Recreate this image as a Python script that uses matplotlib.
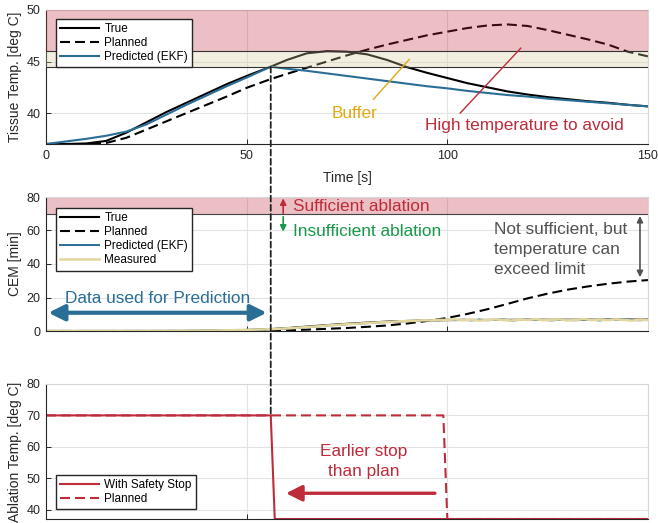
import matplotlib
matplotlib.use("Agg")
import matplotlib.pyplot as plt
from matplotlib.patches import ConnectionPatch

plt.rcParams['font.family'] = ['Liberation Sans', 'DejaVu Sans']

# ---------------- data ----------------
time_temp = [0, 5, 10, 15, 20, 25, 30, 35, 40, 45, 50, 56, 60, 65, 70, 75, 80, 85,
             90, 95, 100, 105, 110, 115, 120, 125, 130, 135, 140, 145, 150]
true_temp = [37.0, 37.0, 37.05, 37.3, 38.1, 39.1, 40.1, 41.0, 41.9, 42.8, 43.6, 44.5,
             45.15, 45.8, 46.0, 45.95, 45.7, 45.15, 44.45, 43.9, 43.4, 42.9, 42.5,
             42.1, 41.8, 41.55, 41.35, 41.15, 41.0, 40.8, 40.65]
planned_temp = [37.0, 37.0, 37.0, 37.1, 37.6, 38.4, 39.2, 40.0, 40.8, 41.6, 42.45, 43.3,
                43.8, 44.4, 45.0, 45.6, 46.15, 46.65, 47.1, 47.55, 47.9, 48.25, 48.5,
                48.6, 48.45, 48.05, 47.6, 47.15, 46.65, 45.95, 45.5]
ekf_temp = [37.0, 37.25, 37.5, 37.8, 38.2, 38.9, 39.85, 40.8, 41.7, 42.6, 43.45, 44.5,
            44.3, 44.1, 43.85, 43.6, 43.35, 43.1, 42.85, 42.6, 42.4, 42.15, 41.95,
            41.75, 41.6, 41.4, 41.25, 41.1, 40.95, 40.8, 40.65]

time_cem = [0, 5, 10, 15, 20, 25, 30, 35, 40, 45, 50, 55, 60, 65, 70, 75, 80, 85,
            90, 95, 100, 105, 110, 115, 120, 125, 130, 135, 140, 145, 150]
true_cem = [0, 0, 0, 0, 0, 0, 0, 0, 0.1, 0.3, 0.6, 1.0, 1.7, 2.6, 3.5, 4.3, 5.0, 5.6,
            6.0, 6.3, 6.5, 6.6, 6.6, 6.65, 6.7, 6.7, 6.7, 6.75, 6.75, 6.8, 6.8]
planned_cem = [0, 0, 0, 0, 0, 0, 0, 0, 0, 0, 0, 0, 0.4, 0.8, 1.3, 1.8, 2.5, 3.3,
               4.5, 6.0, 7.8, 10.2, 13.0, 16.2, 19.5, 22.3, 24.7, 26.6, 28.2, 29.5, 30.4]

time_meas = list(range(0, 151, 2))
measured_cem = [0, 0, 0, 0.05, 0, 0, 0.05, 0, 0, 0.05, 0, 0.05, 0, 0.1, 0.05, 0.1,
                0.05, 0.15, 0.1, 0.2, 0.25, 0.3, 0.4, 0.45, 0.6, 0.65, 0.8, 0.9,
                1.1, 1.3, 1.6, 1.8, 2.2, 2.5, 2.8, 3.3, 3.5, 3.9, 4.2, 4.4, 4.8, 5.0,
                5.3, 5.4, 5.8, 5.9, 6.1, 6.4, 6.3, 6.7, 6.6,
                6.9, 6.4, 6.7, 6.2, 6.6, 6.9, 6.5, 6.3, 6.8, 6.6, 7.0, 6.4, 6.7, 6.9,
                6.3, 6.6, 7.1, 6.5, 6.8, 6.4, 6.9, 6.6, 6.2, 6.8, 6.5]
ekf_cem = [0, 0, 0.05, 0, 0, 0.05, 0, 0.05, 0.05, 0, 0.05, 0.1, 0.05, 0.05, 0.1, 0.1,
           0.15, 0.1, 0.2, 0.2, 0.3, 0.35, 0.4, 0.5, 0.55, 0.7, 0.75, 0.9,
           1.0, 1.4, 1.5, 1.9, 2.1, 2.6, 2.7, 3.2, 3.6, 3.8, 4.3, 4.3, 4.7, 5.1,
           5.2, 5.5, 5.7, 6.0, 6.0, 6.3, 6.5, 6.5, 6.8,
           6.5, 6.8, 6.3, 6.8, 6.4, 6.7, 6.9, 6.2, 6.6, 6.9, 6.5, 6.7, 6.3, 6.8,
           6.6, 6.4, 6.9, 6.7, 6.3, 6.9, 6.5, 6.8, 6.6, 6.4, 6.7]

time_stop = [0, 56, 57, 150]
ablation_stop = [70, 70, 37, 37]
time_plan = [0, 99, 100, 150]
ablation_plan = [70, 70, 37, 37]

stop_time = 56
temp_limit = 46
temp_buffer = 44.5
cem_target = 70

# ---------------- styling ----------------
RED = '#BE2B3B'
BLUE = '#2A6E96'
GOLD = '#E2A812'
GREEN = '#16994A'
GREY = '#525252'
KHAKI = '#E4D79E'
AXC = '#262626'
GRIDC = '#E3E3E3'
DASH = (0, (4.8, 2.4))

W, H = 658, 523
fig = plt.figure(figsize=(W / 100, H / 100), dpi=100)
ax1 = fig.add_axes([46 / W, 1 - 144 / H, 602 / W, 134 / H])
ax2 = fig.add_axes([46 / W, 1 - 331 / H, 602 / W, 134 / H])
ax3 = fig.add_axes([46 / W, 1 - 519 / H, 602 / W, 135 / H])

for ax in (ax1, ax2, ax3):
    ax.set_xlim(0, 150)
    ax.set_xticks([0, 50, 100, 150])
    ax.grid(True, color=GRIDC, lw=0.8, zorder=0)
    ax.set_axisbelow(True)
    ax.tick_params(direction='in', length=3.5, width=0.7, colors=AXC, labelsize=9, pad=4)
    for s in ('left', 'bottom'):
        ax.spines[s].set_color(AXC)
        ax.spines[s].set_linewidth(0.8)
    for s in ('top', 'right'):
        ax.spines[s].set_color('#D6D6D6')
        ax.spines[s].set_linewidth(0.8)

leg_kw = dict(fontsize=8.5, frameon=True, fancybox=False, framealpha=1,
              edgecolor=AXC, handlelength=3.3, handletextpad=0.45,
              labelspacing=0.18, borderpad=0.35, borderaxespad=0)

# ---------------- tissue temperature ----------------
ax1.set_ylim(37, 50)
ax1.set_yticks([40, 45, 50])
l_true, = ax1.plot(time_temp, true_temp, color='black', lw=1.5, zorder=2)
l_plan, = ax1.plot(time_temp, planned_temp, color='black', lw=1.5, ls=DASH, zorder=2)
l_ekf, = ax1.plot(time_temp, ekf_temp, color=BLUE, lw=1.5, zorder=2)
ax1.axhspan(temp_limit, 50, facecolor=RED, alpha=0.3, lw=0, zorder=3)
ax1.axhspan(temp_buffer, temp_limit, facecolor='#D6CC9A', alpha=0.3, lw=0, zorder=3)
ax1.axhline(temp_limit, color='#333333', lw=0.8, zorder=3)
ax1.axhline(temp_buffer, color='#333333', lw=0.8, zorder=3)
ax1.set_ylabel('Tissue Temp. [deg C]', fontsize=10, color=AXC, labelpad=3)
ax1.set_xlabel('Time [s]', fontsize=10, color=AXC, labelpad=7)
ax1.legend([l_true, l_plan, l_ekf], ['True', 'Planned', 'Predicted (EKF)'],
           loc='upper left', bbox_to_anchor=(0.0166, 0.933), **leg_kw).set_zorder(10)

ax1.plot([81.6, 90.5], [41.35, 45.2], color=GOLD, lw=1.0, zorder=4)
ax1.text(71.2, 40.0, 'Buffer', color=GOLD, fontsize=12.4, ha='left', va='center', zorder=4)
ax1.plot([103.2, 118.3], [40.0, 46.3], color=RED, lw=1.0, zorder=4)
ax1.text(119.1, 38.75, 'High temperature to avoid', color=RED, fontsize=12.4,
         ha='center', va='center', zorder=4)

# ---------------- CEM ----------------
ax2.set_ylim(0, 80)
ax2.set_yticks([0, 20, 40, 60, 80])
ax2.tick_params(labelbottom=False)
ax2.axhspan(cem_target, 80, facecolor=RED, alpha=0.3, lw=0, zorder=1)
ax2.axhline(cem_target, color='#444444', lw=0.8, zorder=1)
c_plan, = ax2.plot(time_cem, planned_cem, color='black', lw=1.5, ls=DASH, zorder=2)
c_true, = ax2.plot(time_cem, true_cem, color='black', lw=1.5, zorder=2)
c_ekf, = ax2.plot(time_meas, ekf_cem, color=BLUE, lw=1.4, zorder=2.2)
c_meas, = ax2.plot(time_meas, measured_cem, color=KHAKI, lw=1.8, zorder=2.3)
ax2.set_ylabel('CEM [min]', fontsize=10, color=AXC, labelpad=3)
ax2.legend([c_true, c_plan, c_ekf, c_meas],
           ['True', 'Planned', 'Predicted (EKF)', 'Measured'],
           loc='upper left', bbox_to_anchor=(0.0166, 0.918), **leg_kw).set_zorder(10)

ax2.annotate('', xy=(59.1, 79.2), xytext=(59.1, 70.3),
             arrowprops=dict(arrowstyle='-|>', color=RED, lw=1.2, mutation_scale=9,
                             shrinkA=0, shrinkB=0), zorder=5)
ax2.annotate('', xy=(59.1, 59.3), xytext=(59.1, 68.2),
             arrowprops=dict(arrowstyle='-|>', color=GREEN, lw=1.2, mutation_scale=9,
                             shrinkA=0, shrinkB=0), zorder=5)
ax2.text(61.6, 74.2, 'Sufficient ablation', color=RED, fontsize=12.4,
         ha='left', va='center', zorder=5)
ax2.text(61.6, 59.7, 'Insufficient ablation', color=GREEN, fontsize=12.4,
         ha='left', va='center', zorder=5)
ax2.text(111.6, 48.4, 'Not sufficient, but\ntemperature can\nexceed limit', color=GREY,
         fontsize=12.4, ha='left', va='center', linespacing=1.42, zorder=5)
ax2.annotate('', xy=(148.0, 68.7), xytext=(148.0, 32.1),
             arrowprops=dict(arrowstyle='<|-|>', color=GREY, lw=1.2, mutation_scale=9,
                             shrinkA=0, shrinkB=0), zorder=5)
ax2.annotate('', xy=(0.6, 10.9), xytext=(55.0, 10.9),
             arrowprops=dict(arrowstyle='<|-|>', color=BLUE, lw=3.0, mutation_scale=24,
                             shrinkA=0, shrinkB=0), zorder=5)
ax2.text(27.7, 19.5, 'Data used for Prediction', color=BLUE, fontsize=12.4,
         ha='center', va='center', zorder=5)

# ---------------- ablation temperature ----------------
ax3.set_ylim(37, 80)
ax3.set_yticks([40, 50, 60, 70, 80])
ax3.tick_params(labelbottom=False)
a_plan, = ax3.plot(time_plan, ablation_plan, color=RED, lw=1.5, ls=DASH, zorder=2)
a_stop, = ax3.plot(time_stop, ablation_stop, color=RED, lw=1.5, zorder=2.5)
ax3.set_ylabel('Ablation Temp. [deg C]', fontsize=10, color=AXC, labelpad=3)
ax3.legend([a_stop, a_plan], ['With Safety Stop', 'Planned'],
           loc='lower left', bbox_to_anchor=(0.0166, 0.074), **leg_kw).set_zorder(10)
ax3.text(79.1, 55.3, 'Earlier stop\nthan plan', color=RED, fontsize=12.4,
         ha='center', va='center', linespacing=1.42, zorder=5)
ax3.annotate('', xy=(59.8, 45.2), xytext=(96.9, 45.2),
             arrowprops=dict(arrowstyle='-|>', color=RED, lw=2.4, mutation_scale=24,
                             shrinkA=0, shrinkB=0), zorder=5)

# vertical marker of the safety stop across the three panels
con = ConnectionPatch(xyA=(stop_time, temp_buffer), coordsA=ax1.transData,
                      xyB=(stop_time, 70), coordsB=ax3.transData,
                      color='#222222', lw=1.3, linestyle=(0, (3.3, 1.8)), zorder=20)
fig.add_artist(con)

fig.savefig('out.png', dpi=100)
